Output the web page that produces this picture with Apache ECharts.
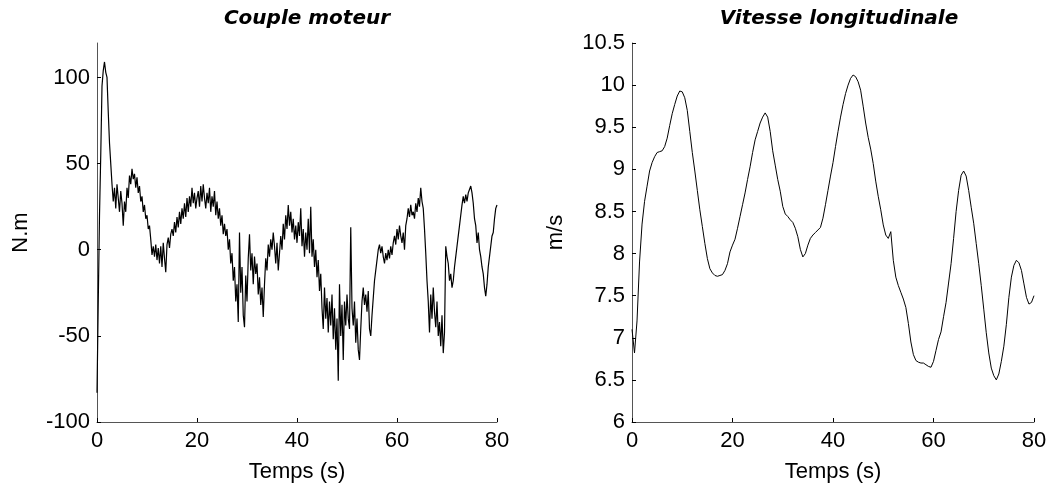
<!DOCTYPE html>
<html>
<head>
<meta charset="utf-8">
<script src="https://cdn.jsdelivr.net/npm/echarts@6/dist/echarts.min.js"></script>
<style>
html,body{margin:0;padding:0;background:#fff;}
#chart{width:1058px;height:488px;}
</style>
</head>
<body>
<div id="chart"></div>
<script>
// ---- Data ----
const titles = ['Couple moteur', 'Vitesse longitudinale'];
const xAxisName = 'Temps (s)';
const yNames = ['N.m', 'm/s'];
const xTicks = [0, 20, 40, 60, 80];
const torqueTicks = [-100, -50, 0, 50, 100];
const speedTicks = [6, 6.5, 7, 7.5, 8, 8.5, 9, 9.5, 10, 10.5];

// Couple moteur (N.m), sampled every 0.25 s from 0 to 80 s
const torqueStep = 0.25;
const torque = [
  -83, -30, 20, 55, 95, 104, 109, 103, 100, 80, 62, 50, 38, 28, 36, 24, 38, 30, 22, 34,
  27, 14, 28, 22, 36, 30, 43, 38, 47, 41, 44, 36, 42, 33, 37, 28, 31, 22, 26, 18,
  20, 12, 14, 6, -3, 2, -4, 3, -6, 1, -8, 2, -10, 4, -5, -13, 3, 7, 1, 9,
  12, 8, 16, 10, 19, 13, 22, 15, 24, 18, 27, 19, 30, 22, 31, 25, 36, 27, 33, 24,
  30, 34, 25, 37, 28, 38, 30, 24, 33, 27, 36, 22, 31, 25, 34, 20, 28, 18, 24, 14,
  20, 9, 15, 8, 12, 0, 6, -8, -2, -18, -10, -30, -20, -42, 10, -25, -10, -38, -45, -15,
  -30, -5, 9, -12, -2, -20, -4, -14, -8, -26, -16, -32, -22, -39, -20, -5, -12, 3, -4, 6,
  0, 10, 2, -8, 4, -12, -2, 8, 0, 15, 6, 20, 12, 26, 14, 22, 10, 18, 6, 14,
  4, 16, 8, 24, 2, 12, -4, 10, 0, 18, -2, 25, -4, 6, -10, 0, -16, -6, -24, -14,
  -34, -46, -22, -40, -28, -48, -30, -44, -26, -52, -34, -58, -40, -76, -20, -50, -32, -64, -30, -44,
  -26, -40, -46, 13, -34, -44, -30, -54, -40, -58, -64, -46, -30, -22, -32, -26, -36, -24, -46, -50,
  -38, -28, -18, -12, -6, 0, 3, -2, 2, -4, -8, -2, -6, 0, -5, 2, -3, 4, 8, 3,
  12, 6, 14, 8, 4, 10, 0, 14, 18, 24, 19, 26, 20, 22, 18, 27, 22, 30, 25, 36,
  28, 24, 12, -2, -18, -30, -48, -26, -40, -22, -36, -45, -30, -50, -42, -56, -38, -60, -48, 2,
  -4, -8, -18, -14, -22, -18, -10, -4, 2, 8, 14, 20, 26, 31, 27, 32, 28, 33, 35, 37,
  33, 27, 18, 14, 4, 10, 0, -4, -10, -14, -22, -27, -20, -10, -4, 2, 8, 10, 18, 24,
  26
];

// Vitesse longitudinale (m/s), sampled every 0.5 s from 0 to 80 s
const speedStep = 0.5;
const speed = [
  7.10, 6.82, 7.20, 7.90, 8.35, 8.62, 8.80, 8.98, 9.08, 9.15,
  9.20, 9.21, 9.22, 9.27, 9.37, 9.52, 9.66, 9.77, 9.87, 9.93,
  9.92, 9.85, 9.70, 9.45, 9.20, 8.98, 8.75, 8.52, 8.32, 8.12,
  7.94, 7.82, 7.77, 7.74, 7.73, 7.74, 7.75, 7.80, 7.88, 8.02,
  8.10, 8.17, 8.30, 8.44, 8.58, 8.72, 8.88, 9.03, 9.20, 9.35,
  9.45, 9.55, 9.62, 9.67, 9.62, 9.45, 9.22, 9.05, 8.88, 8.74,
  8.56, 8.47, 8.44, 8.40, 8.37, 8.30, 8.20, 8.05, 7.96, 8.00,
  8.10, 8.18, 8.22, 8.25, 8.28, 8.31, 8.42, 8.58, 8.75, 8.92,
  9.08, 9.27, 9.45, 9.62, 9.77, 9.90, 10.00, 10.08, 10.12, 10.10,
  10.04, 9.94, 9.75, 9.55, 9.38, 9.24, 9.07, 8.86, 8.68, 8.52,
  8.34, 8.22, 8.18, 8.26, 7.92, 7.72, 7.62, 7.54, 7.46, 7.36,
  7.17, 6.95, 6.80, 6.73, 6.71, 6.70, 6.70, 6.68, 6.66, 6.65,
  6.72, 6.85, 6.98, 7.07, 7.25, 7.42, 7.65, 7.88, 8.18, 8.50,
  8.75, 8.93, 8.98, 8.92, 8.75, 8.55, 8.36, 8.12, 7.88, 7.62,
  7.34, 7.06, 6.82, 6.64, 6.55, 6.50, 6.57, 6.72, 6.90, 7.16,
  7.48, 7.72, 7.86, 7.92, 7.89, 7.80, 7.64, 7.48, 7.40, 7.42,
  7.50
];

// ---- Build ----
const FONT = '"Liberation Sans", Arial, sans-serif';
const torqueData = torque.map((v, i) => [i * torqueStep, v]);
const speedData = speed.map((v, i) => [i * speedStep, v]);

function xAxisCfg(gridIndex) {
  return {
    type: 'value', gridIndex, min: 0, max: 80, interval: 20,
    name: xAxisName, nameLocation: 'middle', nameGap: 39,
    nameTextStyle: { color: '#000', fontSize: 22, fontFamily: FONT },
    axisLine: { onZero: false, lineStyle: { color: '#555', width: 1 } },
    axisTick: { inside: true, length: 4, lineStyle: { color: '#000' }, customValues: xTicks },
    axisLabel: { color: '#000', fontSize: 22, fontFamily: FONT, margin: 8, customValues: xTicks },
    splitLine: { show: false }
  };
}
function yAxisCfg(gridIndex, min, max, interval, ticks, name) {
  return {
    type: 'value', gridIndex, min, max, interval,
    name, nameLocation: 'middle', nameGap: 65,
    nameTextStyle: { color: '#000', fontSize: 22, fontFamily: FONT },
    axisLine: { show: true, lineStyle: { color: '#555', width: 1 } },
    axisTick: { show: true, inside: true, length: 4, lineStyle: { color: '#000' }, customValues: ticks },
    axisLabel: { color: '#000', fontSize: 22, fontFamily: FONT, margin: 7, customValues: ticks },
    splitLine: { show: false }
  };
}

const titleStyle = { fontSize: 20, fontWeight: 'bold', fontStyle: 'italic', color: '#000', fontFamily: '"DejaVu Sans", sans-serif' };
const chart = echarts.init(document.getElementById('chart'), null, { renderer: 'canvas' });
chart.setOption({
  backgroundColor: '#fff',
  animation: false,
  title: [
    { text: titles[0], left: 302, top: 4, textAlign: 'center', textStyle: titleStyle },
    { text: titles[1], left: 834, top: 4, textAlign: 'center', textStyle: titleStyle }
  ],
  grid: [
    { left: 97, top: 43, width: 400, height: 379 },
    { left: 632, top: 43, width: 402, height: 379 }
  ],
  xAxis: [xAxisCfg(0), xAxisCfg(1)],
  yAxis: [
    yAxisCfg(0, -100, 120, 50, torqueTicks, yNames[0]),
    yAxisCfg(1, 6, 10.5, 0.5, speedTicks, yNames[1])
  ],
  series: [
    { type: 'line', xAxisIndex: 0, yAxisIndex: 0, data: torqueData, step: 'end',
      showSymbol: false, lineStyle: { color: '#000', width: 1.2 } },
    { type: 'line', xAxisIndex: 1, yAxisIndex: 1, data: speedData,
      showSymbol: false, lineStyle: { color: '#000', width: 1 } }
  ]
});
</script>
</body>
</html>
